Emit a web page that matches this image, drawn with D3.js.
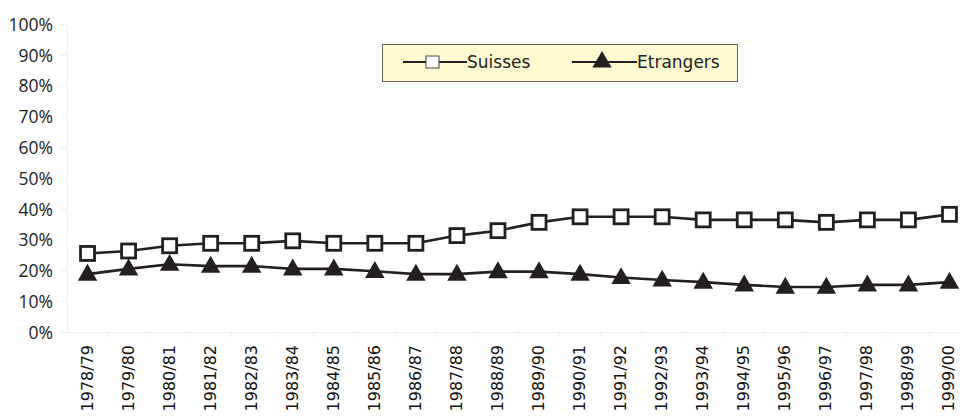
<!DOCTYPE html>
<html>
<head>
<meta charset="utf-8">
<script src="https://cdn.jsdelivr.net/npm/d3@7/dist/d3.min.js"></script>
<style>
  html, body { margin: 0; padding: 0; background: #fff; }
  svg { display: block; }
</style>
</head>
<body>
<svg id="chart" width="960" height="416"></svg>
<script>
// School years
const years = ["1978/79","1979/80","1980/81","1981/82","1982/83","1983/84","1984/85",
  "1985/86","1986/87","1987/88","1988/89","1989/90","1990/91","1991/92","1992/93",
  "1993/94","1994/95","1995/96","1996/97","1997/98","1998/99","1999/00"];

// Shares in percent
const suisses   = [25.5, 26.3, 28, 28.8, 28.8, 29.6, 28.8, 28.8, 28.8, 31.3, 32.9, 35.6,
  37.4, 37.4, 37.4, 36.4, 36.4, 36.4, 35.6, 36.4, 36.4, 38.2];
const etrangers = [18.8, 20.5, 22, 21.4, 21.4, 20.5, 20.5, 19.7, 18.8, 18.8, 19.6, 19.6,
  18.8, 17.7, 16.9, 16.2, 15.3, 14.6, 14.6, 15.3, 15.3, 16.2];

const yTicks = [0, 10, 20, 30, 40, 50, 60, 70, 80, 90, 100];

const ink = "#231f20";
const faint = "#f1f1f1";
const svg = d3.select("#chart");

const x = d3.scaleBand().domain(years).range([67, 970]).padding(0);
const y = d3.scaleLinear().domain([0, 100]).range([332, 24]);
const cx = d => x(d) + x.bandwidth() / 2;

// Faint axes
const yAxis = d3.axisLeft(y).tickValues(yTicks).tickSize(7).tickFormat(d => d + "%");
const gy = svg.append("g").attr("transform", "translate(67,0)").call(yAxis);
gy.select(".domain").attr("stroke", faint);
gy.selectAll(".tick line").attr("stroke", faint);
gy.selectAll(".tick text")
  .attr("x", -14)
  .attr("dy", "0.36em")
  .attr("fill", "#222")
  .style("font-family", "'Open Sans', sans-serif")
  .style("font-size", "17.5px");

const xAxis = d3.axisBottom(x).tickSize(0).tickFormat("");
const gx = svg.append("g").attr("transform", "translate(0,332)").call(xAxis);
gx.select(".domain").attr("stroke", faint);
gx.selectAll(".tick").remove();
svg.append("g").selectAll("line")
  .data(years.slice(1))
  .join("line")
  .attr("x1", d => x(d)).attr("x2", d => x(d))
  .attr("y1", 332).attr("y2", 338)
  .attr("stroke", faint);

svg.append("g").selectAll("text")
  .data(years)
  .join("text")
  .attr("transform", d => `translate(${cx(d) + 5},345) rotate(-90)`)
  .attr("text-anchor", "end")
  .attr("fill", "#111")
  .style("font-family", "'DejaVu Sans', sans-serif")
  .style("font-size", "16px")
  .text(d => d);

// Lines
const line = vals => d3.line().x((d, i) => cx(years[i])).y(d => y(d))(vals);
svg.append("path").attr("d", line(etrangers))
  .attr("fill", "none").attr("stroke", ink).attr("stroke-width", 2.6);
svg.append("path").attr("d", line(suisses))
  .attr("fill", "none").attr("stroke", ink).attr("stroke-width", 2.6);

// Markers
const tri = d3.symbol().type(d3.symbolTriangle).size(165);
svg.append("g").selectAll("path")
  .data(etrangers)
  .join("path")
  .attr("d", tri)
  .attr("transform", (d, i) => `translate(${cx(years[i])},${y(d) + 1})`)
  .attr("fill", ink);

svg.append("g").selectAll("rect")
  .data(suisses)
  .join("rect")
  .attr("x", (d, i) => cx(years[i]) - 7)
  .attr("y", d => y(d) - 7)
  .attr("width", 14).attr("height", 14)
  .attr("fill", "#fff").attr("stroke", ink).attr("stroke-width", 2.8);

// Legend
const lg = svg.append("g");
lg.append("rect").attr("x", 382.5).attr("y", 44.5).attr("width", 355).attr("height", 37)
  .attr("fill", "#fdfad0").attr("stroke", "#6b6650").attr("stroke-width", 1);
const ly = 62;
lg.append("line").attr("x1", 403).attr("x2", 467).attr("y1", ly).attr("y2", ly)
  .attr("stroke", ink).attr("stroke-width", 2);
lg.append("rect").attr("x", 426).attr("y", ly - 6).attr("width", 13).attr("height", 12)
  .attr("fill", "#fff").attr("stroke", "#444").attr("stroke-width", 1);
lg.append("text").attr("x", 467).attr("y", ly + 6)
  .style("font-family", "'DejaVu Sans', sans-serif").style("font-size", "17px")
  .attr("fill", "#222").text("Suisses");
lg.append("line").attr("x1", 572).attr("x2", 637).attr("y1", ly).attr("y2", ly)
  .attr("stroke", ink).attr("stroke-width", 2);
lg.append("path").attr("d", d3.symbol().type(d3.symbolTriangle).size(160))
  .attr("transform", `translate(602,${ly})`).attr("fill", ink);
lg.append("text").attr("x", 637).attr("y", ly + 6)
  .style("font-family", "'DejaVu Sans', sans-serif").style("font-size", "17px")
  .attr("fill", "#222").text("Etrangers");
</script>
</body>
</html>
